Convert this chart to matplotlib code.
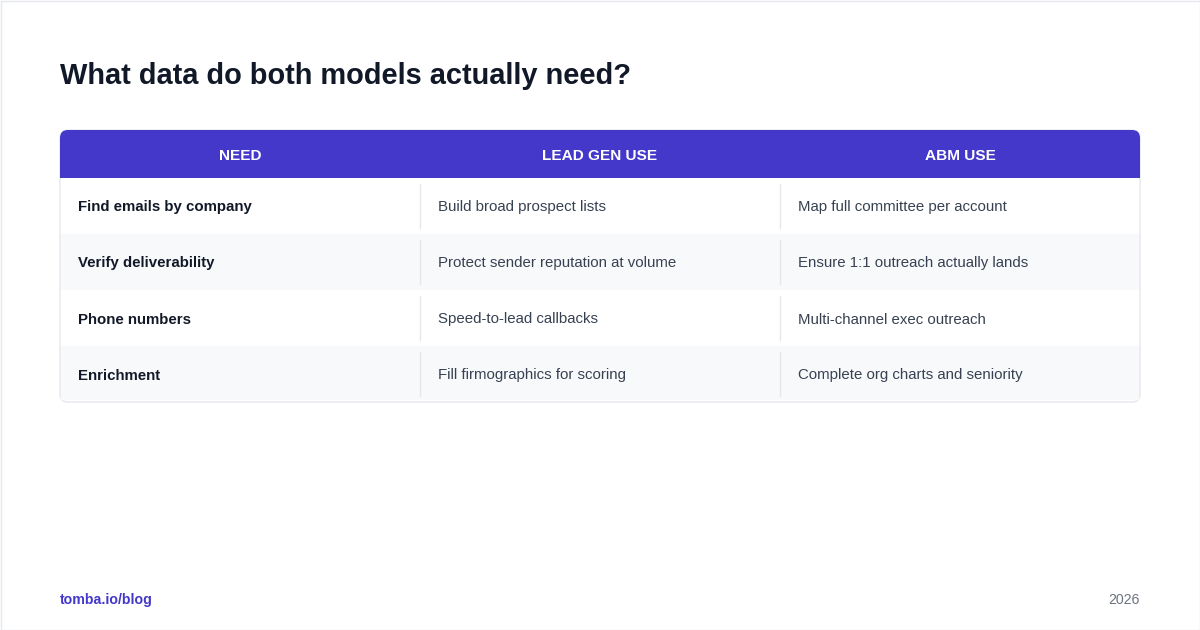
import matplotlib
matplotlib.use("Agg")
import matplotlib.pyplot as plt
from matplotlib.patches import FancyBboxPatch, Rectangle

plt.rcParams['font.family'] = ['Liberation Sans', 'DejaVu Sans']

title = "What data do both models actually need?"
headers = ["NEED", "LEAD GEN USE", "ABM USE"]
needs = ["Find emails by company", "Verify deliverability", "Phone numbers", "Enrichment"]
lead_gen = ["Build broad prospect lists", "Protect sender reputation at volume",
            "Speed-to-lead callbacks", "Fill firmographics for scoring"]
abm = ["Map full committee per account", "Ensure 1:1 outreach actually lands",
       "Multi-channel exec outreach", "Complete org charts and seniority"]

W, H = 1200, 630
fig = plt.figure(figsize=(12, 6.3), dpi=100)
ax = fig.add_axes([0, 0, 1, 1])
ax.set_xlim(0, W); ax.set_ylim(H, 0); ax.axis('off')

ax.add_patch(Rectangle((0.5, 0.5), W - 1, H - 1, fill=False, ec='#E5E7EB', lw=1))
ax.text(60, 84, title, fontsize=20.9, fontweight='bold', color='#111827', va='baseline', ha='left')

x0, x1 = 60, 1140
top, hh, rh = 130, 48, 56
bottom = top + hh + rh * len(needs)
indigo = '#4338CA'
ax.add_patch(FancyBboxPatch((x0, top), x1 - x0, bottom - top,
                            boxstyle="round,pad=0,rounding_size=8", fc='white', ec='#E5E7EB', lw=1, zorder=1))
ax.add_patch(FancyBboxPatch((x0, top), x1 - x0, hh,
                            boxstyle="round,pad=0,rounding_size=8", fc=indigo, ec='none', zorder=2))
ax.add_patch(Rectangle((x0, top + hh - 12), x1 - x0, 12, fc=indigo, ec='none', zorder=2))
cols = [60, 420, 780, 1140]
for i, h in enumerate(headers):
    ax.text((cols[i] + cols[i + 1]) / 2, top + hh / 2 + 5.5, h, color='white', fontsize=11.1,
            fontweight='bold', ha='center', va='baseline', zorder=3)
for r in range(len(needs)):
    y = top + hh + r * rh
    if r % 2 == 1:
        ax.add_patch(Rectangle((x0 + 1, y), x1 - x0 - 2, rh if r < len(needs) - 1 else rh - 2,
                               fc='#F8F9FB', ec='none', zorder=2))
    for c in (1, 2):
        ax.plot([cols[c], cols[c]], [y + 6, y + rh - 6], color='#E5E7EB', lw=1, zorder=3)
    vals = [needs[r], lead_gen[r], abm[r]]
    for c, v in enumerate(vals):
        ax.text(cols[c] + 18, y + rh / 2 + 5.5, v, fontsize=10.8, va='baseline', ha='left', zorder=4,
                color='#111827' if c == 0 else '#374151', fontweight='bold' if c == 0 else 'normal')

ax.text(60, 604, "tomba.io/blog", fontsize=10.2, fontweight='bold', color=indigo, va='baseline', ha='left')
ax.text(1140, 604, "2026", fontsize=10.2, color='#6B7280', va='baseline', ha='right')
fig.savefig("out.png", dpi=100)
